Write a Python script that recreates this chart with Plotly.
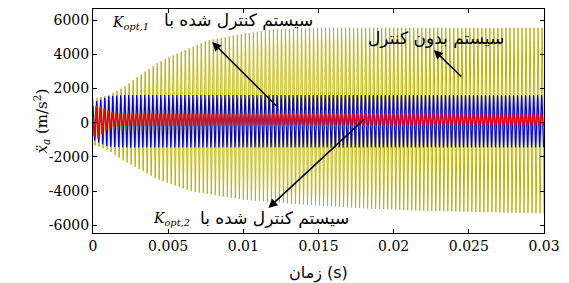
import numpy as np
import plotly.graph_objects as go

# ---------------- data ----------------
# oscillation frequency of the response (Hz), estimated from stripe count
osc_freq = 3750.0
samples_per_cycle = 10
t_end = 0.03

# envelope (upper / lower peak values) for each response, m/s^2
yellow_env_t = [0, 0.001, 0.002, 0.003, 0.0043, 0.0055, 0.0076, 0.01, 0.012, 0.015, 0.02, 0.03]
yellow_env_up = [1400, 1600, 2050, 2700, 3500, 4000, 4800, 5200, 5450, 5550, 5550, 5550]
yellow_env_lo_t = [0, 0.001, 0.002, 0.0043, 0.0065, 0.01, 0.0135, 0.018, 0.022, 0.03]
yellow_env_lo = [-1300, -1600, -2200, -3300, -4000, -4500, -4750, -5000, -5150, -5300]

blue_env_t = [0, 0.0005, 0.001, 0.002, 0.03]
blue_env_up = [1200, 1350, 1550, 1620, 1620]
blue_env_lo = [-1000, -1200, -1400, -1450, -1450]

red_env_t = [0, 0.0003, 0.0008, 0.0015, 0.03]
red_env_up = [900, 1000, 800, 520, 520]
red_env_lo = [-700, -1000, -500, -180, -180]

x_ticks = [0, 0.005, 0.01, 0.015, 0.02, 0.025, 0.03]
x_tick_labels = ["0", "0.005", "0.01", "0.015", "0.02", "0.025", "0.03"]
y_ticks = [-6000, -4000, -2000, 0, 2000, 4000, 6000]
y_tick_labels = ["-6000", "-4000", "-2000", "0", "2000", "4000", "6000"]

# ---------------- build oscillating traces ----------------
n = int(round(t_end * osc_freq * samples_per_cycle)) + 1
t = np.linspace(0, t_end, n)


def signal(t_up, up, t_lo, lo, phase_steps=0):
    u = np.interp(t, t_up, up)
    l = np.interp(t, t_lo, lo)
    c = np.cos(2 * np.pi * (osc_freq * t + phase_steps / samples_per_cycle))
    return (u + l) / 2 + (u - l) / 2 * c


y_yellow = signal(yellow_env_t, yellow_env_up, yellow_env_lo_t, yellow_env_lo)
y_blue = signal(blue_env_t, blue_env_up, blue_env_t, blue_env_lo, 1)
y_red = signal(red_env_t, red_env_up, red_env_t, red_env_lo, 2)

fig = go.Figure()
fig.add_trace(go.Scatter(x=t, y=y_yellow, mode="lines",
                         line=dict(color="rgb(190,180,0)", width=1), showlegend=False))
fig.add_trace(go.Scatter(x=t, y=y_blue, mode="lines",
                         line=dict(color="rgb(0,0,255)", width=1.2), showlegend=False))
fig.add_trace(go.Scatter(x=t, y=y_red, mode="lines",
                         line=dict(color="rgb(255,0,0)", width=1.6), showlegend=False))

axis_common = dict(showline=True, linecolor="black", linewidth=1, mirror="ticks",
                   ticks="inside", ticklen=4, tickcolor="black", showgrid=False,
                   zeroline=False, tickfont=dict(family="DejaVu Serif", size=14, color="black"))

fig.update_layout(
    width=569, height=283,
    margin=dict(l=93, r=25, t=9, b=50),
    paper_bgcolor="white", plot_bgcolor="white",
    xaxis=dict(range=[0, 0.03], tickvals=x_ticks, ticktext=x_tick_labels, **axis_common),
    yaxis=dict(range=[-6450, 6650], tickvals=y_ticks, ticktext=y_tick_labels, **axis_common),
)

fa = "DejaVu Sans"
anns = [
    # top label
    dict(x=0.0097, y=5950, text="سیستم کنترل شده با", font=dict(family=fa, size=17)),
    dict(x=0.0025, y=5850, text="<i>K</i><sub><i>opt,1</i></sub>", font=dict(family="DejaVu Serif", size=14)),
    # right label
    dict(x=0.0228, y=4950, text="سیستم بدون کنترل", font=dict(family=fa, size=17)),
    # bottom label
    dict(x=0.0121, y=-5580, text="سیستم کنترل شده با", font=dict(family=fa, size=17)),
    dict(x=0.0052, y=-5660, text="<i>K</i><sub><i>opt,2</i></sub>", font=dict(family="DejaVu Serif", size=14)),
]
for a in anns:
    a.update(xref="x", yref="y", showarrow=False)
    a["font"]["color"] = "black"
    fig.add_annotation(**a)

arrows = [
    ((0.00793, 4720), (0.01227, 919)),
    ((0.02267, 4252), (0.0246, 2615)),
    ((0.01167, -4988), (0.01813, 276)),
]
for (hx, hy), (tx, ty) in arrows:
    fig.add_annotation(x=hx, y=hy, ax=tx, ay=ty, xref="x", yref="y", axref="x", ayref="y",
                       text="", showarrow=True, arrowhead=2, arrowsize=1.2, arrowwidth=1.5,
                       arrowcolor="black")

# axis titles
fig.add_annotation(x=0.5, y=-0.178, xref="paper", yref="paper", text="زمان (s)",
                   showarrow=False, yanchor="middle", font=dict(family=fa, size=16, color="black"))
fig.add_annotation(x=-0.144, y=0.5, xref="paper", yref="paper", textangle=-90,
                   text="<i>ẍ<sub>a</sub></i> (m/s<sup>2</sup>)", showarrow=False,
                   font=dict(family="DejaVu Serif", size=15, color="black"))

fig.write_html("out.html", config={"displayModeBar": False},
               post_script="document.body.style.margin='0';")
